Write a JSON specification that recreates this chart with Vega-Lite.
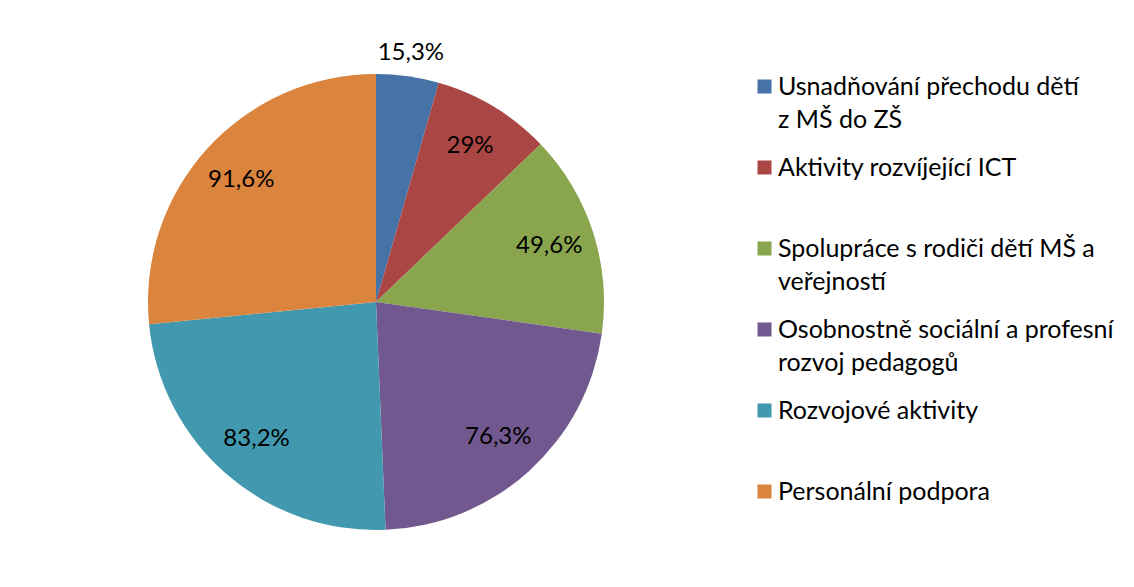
{
  "$schema": "https://vega.github.io/schema/vega-lite/v6.json",
  "width": 736,
  "height": 580,
  "padding": {"left": 8, "top": 12, "right": 0, "bottom": 0},
  "background": "white",
  "config": {
    "view": {"stroke": null},
    "font": "Lato",
    "style": {"guide-label": {"lineHeight": 33}}
  },
  "data": {
    "values": [
      {"cat": "Usnadňování přechodu dětí z MŠ do ZŠ", "value": 15.3, "label": "15,3%", "order": 1},
      {"cat": "Aktivity rozvíjející ICT", "value": 29, "label": "29%", "order": 2},
      {"cat": "Spolupráce s rodiči dětí MŠ a veřejností", "value": 49.6, "label": "49,6%", "order": 3},
      {"cat": "Osobnostně sociální a profesní rozvoj pedagogů", "value": 76.3, "label": "76,3%", "order": 4},
      {"cat": "Rozvojové aktivity", "value": 83.2, "label": "83,2%", "order": 5},
      {"cat": "Personální podpora", "value": 91.6, "label": "91,6%", "order": 6}
    ]
  },
  "encoding": {
    "theta": {"field": "value", "type": "quantitative", "stack": true},
    "order": {"field": "order", "type": "quantitative"},
    "color": {
      "field": "cat",
      "type": "nominal",
      "sort": null,
      "scale": {
        "domain": [
          "Usnadňování přechodu dětí z MŠ do ZŠ",
          "Aktivity rozvíjející ICT",
          "Spolupráce s rodiči dětí MŠ a veřejností",
          "Osobnostně sociální a profesní rozvoj pedagogů",
          "Rozvojové aktivity",
          "Personální podpora"
        ],
        "range": ["#4572A7", "#AA4643", "#89A54E", "#71588F", "#4198AF", "#DB843D"]
      },
      "legend": {
        "orient": "none",
        "legendX": 744,
        "legendY": 62,
        "title": null,
        "padding": 0,
        "symbolType": "square",
        "symbolSize": 196,
        "symbolStrokeWidth": 0,
        "symbolOpacity": 1,
        "labelFont": "Lato",
        "labelFontSize": 25,
        "labelColor": "#000000",
        "labelBaseline": "middle",
        "labelOffset": 1,
        "labelLimit": 500,
        "rowPadding": 22,
        "labelExpr": "datum.label == 'Usnadňování přechodu dětí z MŠ do ZŠ' ? ['Usnadňování přechodu dětí', 'z MŠ do ZŠ'] : datum.label == 'Spolupráce s rodiči dětí MŠ a veřejností' ? ['Spolupráce s rodiči dětí MŠ a', 'veřejností'] : datum.label == 'Osobnostně sociální a profesní rozvoj pedagogů' ? ['Osobnostně sociální a profesní', 'rozvoj pedagogů'] : [datum.label, '']"
      }
    }
  },
  "layer": [
    {"mark": {"type": "arc", "outerRadius": 228}},
    {
      "mark": {"type": "text", "font": "Lato", "fontSize": 24, "radius": 182},
      "encoding": {
        "text": {"condition": {"test": "datum.order != 1", "field": "label"}, "value": ""},
        "color": {"value": "#000000"}
      }
    },
    {
      "mark": {"type": "text", "font": "Lato", "fontSize": 24, "radius": 251},
      "encoding": {
        "text": {"condition": {"test": "datum.order == 1", "field": "label"}, "value": ""},
        "color": {"value": "#000000"}
      }
    }
  ]
}
